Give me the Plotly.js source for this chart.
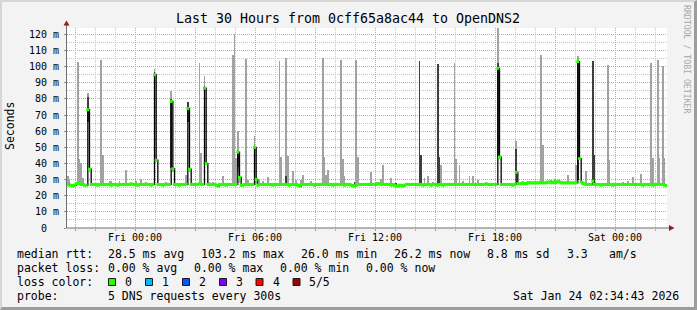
<!DOCTYPE html>
<html><head><meta charset="utf-8">
<script src="https://cdn.plot.ly/plotly-3.0.1.min.js"></script>
<style>
html,body{margin:0;padding:0;background:#f3f3f3;overflow:hidden;}
#frame{position:absolute;left:0;top:0;width:697px;height:310px;box-sizing:border-box;border-top:2px solid #d6d6d6;border-left:2px solid #d6d6d6;border-right:3px solid #9c9c9c;border-bottom:3px solid #9c9c9c;background:#f3f3f3;}
#chart{width:692px;height:305px;}
</style></head><body><div id="frame"><div id="chart"></div></div>
<script>
// ---------- DATA ----------
const startTime = '2026-01-22T20:36:00Z';   // left edge of the 30 h window
const stepMinutes = 5;                        // one sample every 300 s

// median RTT (ms), one value per 5-minute sample (12 per row = 1 hour)
const medianRtt = [
 27,26.5,26.5,26,26.5,27.5,27.5,27.5,27,27,26.5,26.5,
 73.3,36.5,27,27,27,27,26.5,27,27,27,27,27,
 27,27,26.5,27,27,27,26.5,27,27,27,27,27,
 27,27,27.5,27,27,27,26.5,27,27,27,27,27,
 27,27,26.5,27,95,42,27,27,27,26.5,27,27,
 27,27,78.5,36.7,27,27,27,26.5,27,27,27,27,
 74,36.5,27,27,27,27,27,27.5,27,27,86.7,40,
 27,27,27,27,27,26.5,26,27,27,27,27,26.5,
 27,27,27,27,27,27,47,31.4,26.5,26.5,27,27,
 27,27,27,27,50,30,26.5,27,27,27,27,27,
 27,27,27,26.5,27,27,27,27,27,27,27,27,
 27,26.5,27,27,27,27,26.5,26,27,27,27,27,
 27,27,27,27,26.5,27,27,27,27,27,27,27,
 27,27,27,26.5,27,27,27,27,27,27,26.5,27,
 27,27,26.5,26,26,26.5,27,27,27,27,27,27,
 27,27,27,27,27,27,27.5,27.5,27,27,27,27,
 27,27,26.5,27,26.5,26,26,26.5,26.5,26,26.5,27,
 27,27,27,27,27,27,27,27,27,26.5,27,27,
 27,27,26.5,27,27,27,26.5,27,27,26.5,27,27,
 27,27,27,27,27,27,27,27,27,27,27,27,
 27,27,27,27,27,27,27,27,27,27,27,27.5,
 27,27,27,27,27,27,99,44,27,27,27,27,
 27,27,27,26.5,27,34.5,27.5,27.5,27.5,27.5,27.5,27.5,
 28,28,28,28,28,28,28,28,28.5,28,28,28,
 28.5,28.5,28,28.5,28,28.5,29,28.5,28,28,28,28,
 28,28,28,28,28,28,103.2,43,28.5,27.5,27.5,27,
 27,27,27,29,27,27,27,27,26.5,27,27,27,
 27,27,27,26.5,27,27,27,27,27,27,27,27,
 27,27,27,27,27,27,27,27,27,26.5,27,27,
 27,27,27,26.5,27,27,27,27,27,27,26.5,26.2
];

// light smoke: sample index, lowest and highest ping (ms)
const smokeIdx = [0,1,6,7,8,9,12,13,20,21,25,26,31,35,41,44,47,52,53,59,62,63,71,72,73,79,80,82,83,85,87,93,99,100,101,102,103,107,108,112,113,115,117,120,127,128,131,132,135,137,140,141,146,153,154,155,156,164,165,166,173,174,182,185,188,189,194,214,216,219,224,232,233,235,237,241,243,246,258,259,269,273,276,281,284,285,290,292,300,305,306,307,311,324,325,333,336,339,344,350,351,354,355,357,358];
const smokeLo  = [26,26,27,27,27,27,66,35,27,27,27,27,27,27,27,27,27,78,41,27,37,35,27,66,35,27,27,75,39,27,27,27,27,27,27,35,28,27,27,35,27,27,27,27,27,27,27,27,27,27,27,27,27,27,27,27,27,27,27,27,27,27,27,27,27,27,27,27,27,27,27,27,27,27,27,27,27,27,83,43,34,27,27,27,27,27,28,28,28,28,30,43,28,27,27,27,27,27,27,27,27,27,27,27,27];
const smokeHi  = [32,30,103,43,40,31,84,38,104,45.5,29.3,29.3,29,36,29,30.5,28.5,98.7,43,28.5,85,38,33,78,38,102.6,46.4,94,41,28.5,28.5,32,107.4,120.2,43.3,60,43,104.5,30,57,31,30,29,31.4,103.3,43.8,105.3,44.4,35.5,30,29.8,32.6,29,105.3,43.8,32.6,36.1,104.3,43,32,104.3,43.8,35,28.5,30.5,39.2,31,31,32.2,28.5,38.8,102.6,43,38.8,29,32.2,32,30,124,59,53.7,29,29,28.5,107,51.6,30,30.5,33,38.8,106.4,50,35.5,101.2,42.1,28.5,29,31.4,33.4,102.6,43.3,104.3,43.3,100.6,43.3];

// dense smoke (several pings together)
const denseIdx = [12,52,62,72,82,102,112,131,172,197,211,212,222,223,258,269,306,315,316];
const denseLo  = [66,85,37,66,75,38,35,27,26,26,27,27,27,27,44,34,30,28,28];
const denseHi  = [81.5,97,80,78,88,48,50,32,28.5,28,103.7,45,101.6,43.8,102,49,104,103.3,45];

// axes
const xTickTimes  = ['2026-01-22T21:00:00Z','2026-01-23T00:00:00Z','2026-01-23T03:00:00Z','2026-01-23T06:00:00Z','2026-01-23T09:00:00Z','2026-01-23T12:00:00Z','2026-01-23T15:00:00Z','2026-01-23T18:00:00Z','2026-01-23T21:00:00Z','2026-01-24T00:00:00Z'];
const xTickLabels = ['','Fri 00:00','','Fri 06:00','','Fri 12:00','','Fri 18:00','','Sat 00:00'];
const yTickVals   = [0,10,20,30,40,50,60,70,80,90,100,110,120];
const yTickLabels = ['0\u00a0\u00a0','10 m','20 m','30 m','40 m','50 m','60 m','70 m','80 m','90 m','100 m','110 m','120 m'];

// legend
const lossLabels = ['0','1','2','3','4','5/5'];
const lossColors = ['#26ff00','#00b8ff','#0059ff','#7e00ff','#ff0000','#a00000'];

// ---------- CHART ----------
const T0 = Date.parse(startTime);
const STEP = stepMinutes*60000;
const N = medianRtt.length;
const tOf = i => T0 + (i+0.5)*STEP;
const sampleTimes = medianRtt.map((_, i) => tOf(i));

const MONO = 'DejaVu Sans Mono, monospace';
// page-pixel -> paper helpers (plot area spans x 67..667, y 28..228)
const PX = x => (x-67)/600;
const PY = y => (228-y)/200;

const traces = [
 {type:'bar', x: smokeIdx.map(tOf), y: smokeHi.map((h,k)=>h-smokeLo[k]), base: smokeLo,
  width: STEP, marker:{color:'#a2a2a2', line:{width:0}}, hoverinfo:'skip'},
 {type:'bar', x: denseIdx.map(tOf), y: denseHi.map((h,k)=>h-denseLo[k]), base: denseLo,
  width: STEP, marker:{color:'#3e3e3e', line:{width:0}}, hoverinfo:'skip'},
 {type:'scatter', mode:'lines', x: sampleTimes, y: medianRtt, line:{color:'#000', width:1.3, shape:'hv'}, hoverinfo:'skip'},
 {type:'scatter', mode:'markers', x: sampleTimes, y: medianRtt,
  marker:{symbol:'square', size:3, color: lossColors[0], line:{width:0}}, hoverinfo:'skip'}
];

const ann = [];
function txt(text, x, y, opts={}) {
  ann.push(Object.assign({text, x: PX(x), y: PY(y), xref:'paper', yref:'paper', showarrow:false,
    xanchor:'left', yanchor:'middle', borderpad:0,
    font:{family:MONO, size:11.5, color:'#000'}}, opts));
}
txt('Seconds', 10, 126, {xanchor:'center', textangle:-90});
txt('RRDTOOL / TOBI OETIKER', 687, 59, {xanchor:'center', textangle:90, font:{family:MONO, size:8.2, color:'#a8a8a8'}});

const L1 = 254, L2 = 268, L3 = 282, L4 = 296;
txt('median rtt:', 16, L1); txt('28.5 ms avg', 107, L1); txt('103.2 ms max', 200, L1);
txt('26.0 ms min', 300, L1); txt('26.2 ms now', 393, L1); txt('8.8 ms sd', 486, L1);
txt('3.3', 566, L1); txt('am/s', 607.5, L1);
txt('packet loss:', 16, L2); txt('0.00 % avg', 107, L2); txt('0.00 % max', 193, L2);
txt('0.00 % min', 279, L2); txt('0.00 % now', 365, L2);
txt('loss color:', 16, L3);
const boxX = [108.5,145.5,182.5,219.5,256,293];
const labX = [124,161.3,198.3,235,271.7,308.3];
const shapes = [];
lossLabels.forEach((lab,k)=>{
  txt(lab, labX[k], L3);
  shapes.push({type:'rect', xref:'paper', yref:'paper', x0:PX(boxX[k]), x1:PX(boxX[k]+7), y0:PY(L3+3.5), y1:PY(L3-3.5),
    fillcolor: lossColors[k], line:{color:'#1a1a1a', width:1}});
});
txt('probe:', 16, L4); txt('5 DNS requests every 300s', 107, L4);
txt('Sat Jan 24 02:34:43 2026', 680, L4, {xanchor:'right'});

// axis lines with arrows
shapes.push({type:'line', xref:'paper', yref:'paper', x0:PX(66.5), x1:PX(66.5), y0:PY(228), y1:PY(23), line:{color:'#6e6e6e', width:1}, layer:'above'});
shapes.push({type:'line', xref:'paper', yref:'paper', x0:PX(66.5), x1:PX(670), y0:PY(228), y1:PY(228), line:{color:'#6e6e6e', width:1}, layer:'above'});
shapes.push({type:'path', xref:'paper', yref:'paper', layer:'above',
  path:`M ${PX(63.5)} ${PY(25.5)} L ${PX(69.5)} ${PY(25.5)} L ${PX(66.5)} ${PY(20.5)} Z`, fillcolor:'#9a1c1c', line:{width:0}});
shapes.push({type:'path', xref:'paper', yref:'paper', layer:'above',
  path:`M ${PX(669)} ${PY(225)} L ${PX(669)} ${PY(231)} L ${PX(674.5)} ${PY(228)} Z`, fillcolor:'#9a1c1c', line:{width:0}});

const layout = {
  width:692, height:305,
  margin:{l:65, r:27, t:26, b:79, pad:0},
  paper_bgcolor:'#f3f3f3', plot_bgcolor:'#ffffff',
  showlegend:false, barmode:'overlay', bargap:0,
  title:{text:'Last 30 Hours from 0cff65a8ac44 to OpenDNS2', font:{family:MONO, size:13.3, color:'#000'},
    x: PX(348), xref:'paper', xanchor:'center', y: 1-(18.5-2)/305, yref:'container', yanchor:'middle'},
  xaxis:{type:'date', range:[T0, T0+N*STEP], tickmode:'array',
    tickvals: xTickTimes.map(s=>Date.parse(s)), ticktext: xTickLabels,
    showgrid:true, gridcolor:'#ff8a8a', griddash:'1px,1px', gridwidth:1,
    ticks:'outside', ticklen:2, tickcolor:'#ff7070', tickwidth:1, ticklabelstandoff:-2,
    tickfont:{family:MONO, size:10, color:'#000'},
    zeroline:false, showline:false, fixedrange:true,
    minor:{tickmode:'linear', tick0: Date.parse(xTickTimes[0]), dtick:3600000, showgrid:true, gridcolor:'#c4c4c4', griddash:'1px,1px', gridwidth:1,
      ticks:'outside', ticklen:2, tickcolor:'#b0b0b0'}},
  yaxis:{range:[0,124], tickmode:'array', tickvals:yTickVals, ticktext:yTickLabels,
    showgrid:true, gridcolor:'#ff8a8a', griddash:'1px,1px', gridwidth:1,
    ticks:'outside', ticklen:2, tickcolor:'#909090',
    tickfont:{family:MONO, size:10, color:'#000'}, ticklabelstandoff:3,
    zeroline:false, showline:false, fixedrange:true,
    minor:{tickmode:'linear', tick0:0, dtick:5, showgrid:true, gridcolor:'#c4c4c4', griddash:'1px,1px', gridwidth:1}},
  annotations: ann,
  shapes: shapes
};

Plotly.newPlot('chart', traces, layout, {staticPlot:true, displayModeBar:false});
</script></body></html>
